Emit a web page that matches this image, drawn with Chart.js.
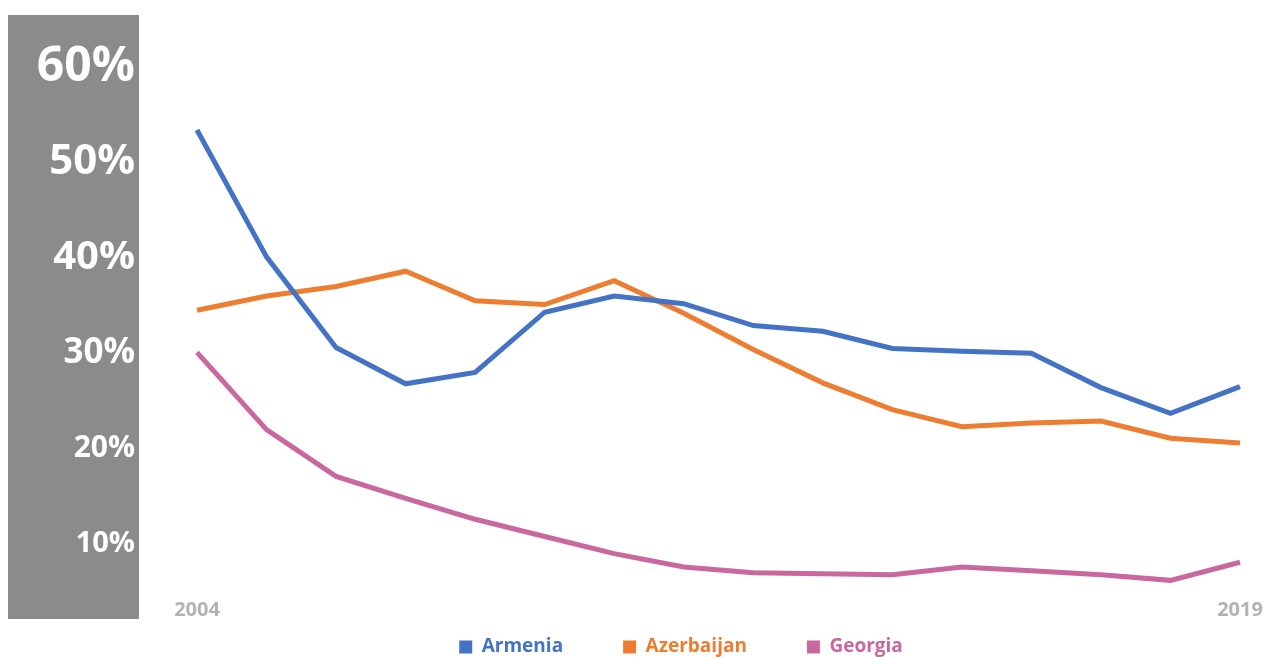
<!DOCTYPE html>
<html>
<head>
<meta charset="utf-8">
<title>Poverty rate: Armenia, Azerbaijan, Georgia</title>
<script src="https://cdn.jsdelivr.net/npm/chart.js@4.4.0/dist/chart.umd.min.js"></script>
<style>
  html, body { margin: 0; padding: 0; background: #fff; }
  #wrap { width: 1266px; height: 657px; position: relative; }
</style>
</head>
<body>
<div id="wrap"><canvas id="rateChart"></canvas></div>
<script>
// data (percent)
const years = ['2004', '2005', '2006', '2007', '2008', '2009', '2010', '2011',
               '2012', '2013', '2014', '2015', '2016', '2017', '2018', '2019'];
const armenia    = [53.4, 40.1, 30.6, 26.8, 28.0, 34.3, 36.0, 35.2, 32.9, 32.3, 30.5, 30.2, 30.0, 26.4, 23.7, 26.5];
const azerbaijan = [34.5, 36.0, 37.0, 38.6, 35.5, 35.1, 37.6, 34.2, 30.4, 26.9, 24.1, 22.3, 22.7, 22.9, 21.1, 20.6];
const georgia    = [30.1, 22.0, 17.1, 14.8, 12.6, 10.8, 9.0, 7.6, 7.0, 6.9, 6.8, 7.6, 7.2, 6.8, 6.2, 8.1];
const yTicks = [10, 20, 30, 40, 50, 60];
const yMin = 6.5;
const yMax = 60;

const colors = { armenia: '#4472C4', azerbaijan: '#ED7D31', georgia: '#C9679F' };
// tick labels shrink toward the bottom like in the original graphic
const tickSizes = { 60: 48, 50: 42, 40: 40, 30: 35, 20: 30, 10: 29 };

// grey band behind the y labels
const panelPlugin = {
  id: 'panel',
  beforeDraw(chart) {
    const ctx = chart.ctx;
    ctx.save();
    ctx.fillStyle = '#8b8b8b';
    ctx.fillRect(8, 15, 131, 604);
    ctx.restore();
  }
};

// the legend sits a bit right of the canvas centre in the original
const legendShift = {
  id: 'legendShift',
  afterLayout(chart) {
    chart.legend.left += 61;
    chart.legend.right += 61;
  }
};

function lineSet(label, values, color) {
  return {
    label: label,
    data: values,
    borderColor: color,
    backgroundColor: color,
    borderWidth: 5,
    pointRadius: 0,
    pointHoverRadius: 0,
    tension: 0,
    clip: false
  };
}

const ctx = document.getElementById('rateChart').getContext('2d');
const chart = new Chart(ctx, {
  type: 'line',
  data: {
    labels: years,
    datasets: [
      lineSet('Armenia', armenia, colors.armenia),
      lineSet('Azerbaijan', azerbaijan, colors.azerbaijan),
      lineSet('Georgia', georgia, colors.georgia)
    ]
  },
  plugins: [panelPlugin, legendShift],
  options: {
    responsive: true,
    maintainAspectRatio: false,
    animation: false,
    layout: {
      padding: { top: 67, left: 0, right: 26, bottom: -9.5 }
    },
    plugins: {
      tooltip: { enabled: false },
      legend: {
        position: 'bottom',
        labels: {
          boxWidth: 13,
          boxHeight: 13,
          padding: 60,
          font: { family: 'Open Sans', size: 19, weight: 'bold' },
          generateLabels(chart) {
            const items = Chart.defaults.plugins.legend.labels.generateLabels(chart);
            items.forEach(item => {
              const ds = chart.data.datasets[item.datasetIndex];
              item.fontColor = ds.borderColor;
              item.fillStyle = ds.borderColor;
              item.lineWidth = 0;
            });
            return items;
          }
        }
      }
    },
    scales: {
      x: {
        position: { y: yMin },
        grid: { display: false, drawTicks: false },
        border: { display: false },
        afterFit(axis) {
          axis.paddingLeft = 0;
          axis.paddingRight = 0;
        },
        ticks: {
          autoSkip: false,
          maxRotation: 0,
          padding: 21,
          color: '#b3b3b3',
          font: { family: 'Open Sans', size: 20, weight: 'bold' },
          callback(value, index) {
            return (index === 0 || index === years.length - 1) ? years[index] : '';
          }
        }
      },
      y: {
        min: yMin,
        max: yMax,
        grid: { display: false, drawTicks: false },
        border: { display: false },
        afterFit(axis) {
          axis.width = 197;
          axis.paddingTop = 0;
          axis.paddingBottom = 0;
        },
        afterBuildTicks(axis) {
          axis.ticks = yTicks.map(v => ({ value: v }));
        },
        ticks: {
          padding: 62,
          color: '#ffffff',
          font(c) {
            const v = c.tick ? c.tick.value : 30;
            return { family: 'Open Sans', size: tickSizes[v] || 30, weight: 'bold' };
          },
          callback(value) {
            return value + '%';
          }
        }
      }
    }
  }
});
</script>
</body>
</html>
